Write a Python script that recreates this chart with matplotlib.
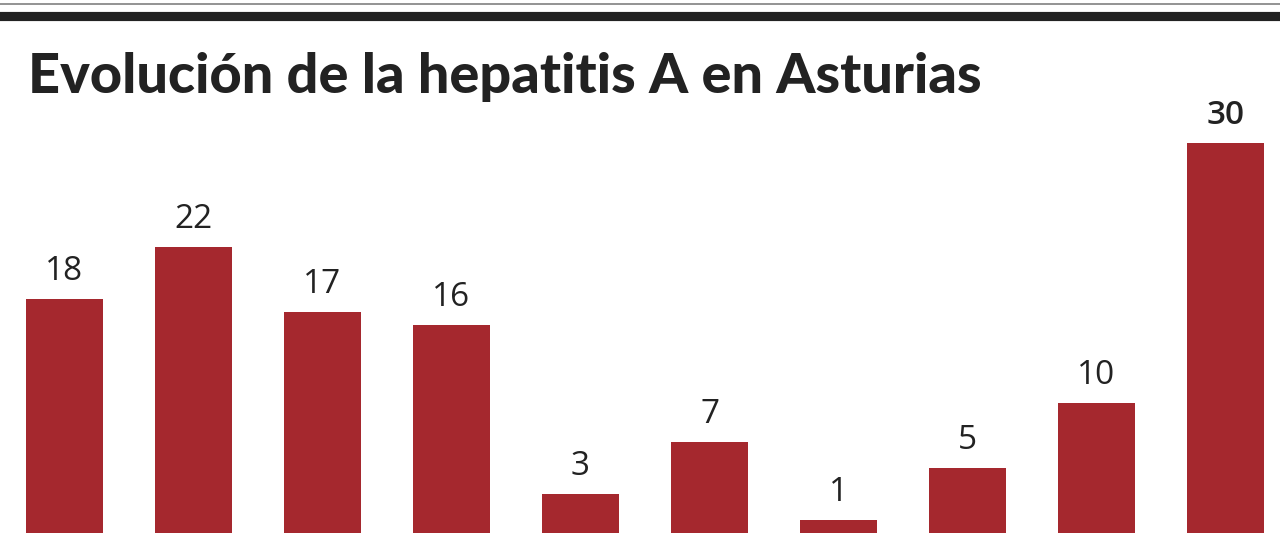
import matplotlib
matplotlib.use("Agg")
import matplotlib.pyplot as plt
from matplotlib.lines import Line2D

title = "Evolución de la hepatitis A en Asturias"
categories = ["1", "2", "3", "4", "5", "6", "7", "8", "9", "10"]
values = [18, 22, 17, 16, 3, 7, 1, 5, 10, 30]

W, H = 1280, 548
fig = plt.figure(figsize=(W / 100, H / 100), dpi=100)
fig.patch.set_facecolor("white")

# decorative rules at top
fig.add_artist(Line2D([0, 1], [1 - 3.5 / H, 1 - 3.5 / H], color="#8a8a8a", lw=1.3, transform=fig.transFigure))
fig.add_artist(Line2D([0, 1], [1 - 15.5 / H, 1 - 15.5 / H], color="#222222", lw=6.6, transform=fig.transFigure))

fig.text(28 / W, 1 - 93 / H, title, fontsize=40.2, fontweight="black", family=["Lato", "DejaVu Sans"],
         color="#222222", ha="left", va="baseline")

ax = fig.add_axes([0, 15 / H, 1, (533 - 100) / H])
x = list(range(len(values)))
bars = ax.bar(x, values, width=0.6, color="#a5282e")
ax.set_xlim(-0.5, (W - 64.5) / 129)
ax.set_ylim(0, (533 - 100) / 13)
ax.axis("off")
for i, v in enumerate(values):
    ax.annotate(str(v), (i, v), xytext=(0, 8), textcoords="offset points", ha="center", va="bottom",
                fontsize=24, color="#222222", family=["Open Sans", "DejaVu Sans"],
                fontweight="semibold" if v == max(values) else "normal")

fig.savefig("out.png", dpi=100, facecolor="white")
